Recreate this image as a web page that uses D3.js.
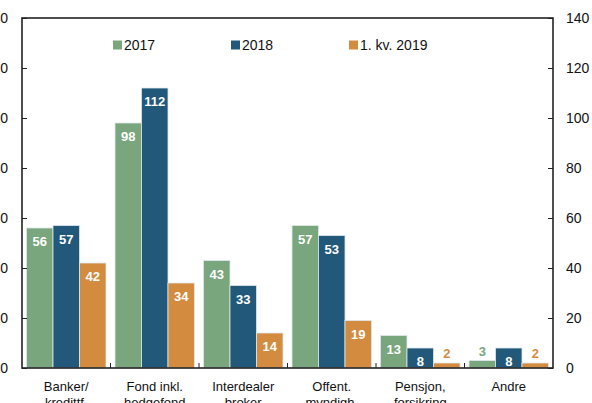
<!DOCTYPE html>
<html>
<head>
<meta charset="utf-8">
<script src="https://cdn.jsdelivr.net/npm/d3@7/dist/d3.min.js"></script>
<style>
  html, body { margin: 0; padding: 0; background: #fff; }
  svg { display: block; font-family: "Liberation Sans", Arial, sans-serif; }
</style>
</head>
<body>
<svg id="chart" width="592" height="403"></svg>
<script>
// Counterparty categories (two-line labels)
const categories = [
  ["Banker/", "kredittf."],
  ["Fond inkl.", "hedgefond"],
  ["Interdealer", "broker"],
  ["Offent.", "myndigh."],
  ["Pensjon,", "forsikring"],
  ["Andre", ""]
];
const seriesNames = ["2017", "2018", "1. kv. 2019"];
const values2017 = [56, 98, 43, 57, 13, 3];
const values2018 = [57, 112, 33, 53, 8, 8];
const valuesQ1_2019 = [42, 34, 14, 19, 2, 2];
const yTicks = [0, 20, 40, 60, 80, 100, 120, 140];
const colors = ["#79a67d", "#22597a", "#d38c3f"];

const series = [values2017, values2018, valuesQ1_2019];

const svg = d3.select("#chart");
const margin = { left: 22, right: 39, top: 18, bottom: 35 };
const W = 592, H = 403;
const innerW = W - margin.left - margin.right;
const innerH = H - margin.top - margin.bottom;

const g = svg.append("g").attr("transform", `translate(${margin.left},${margin.top})`);

const x0 = d3.scaleBand().domain(d3.range(categories.length)).range([0, innerW]).paddingInner(0).paddingOuter(0);
const x1 = d3.scaleBand().domain(d3.range(series.length)).range([0, x0.bandwidth()]).paddingOuter(0.17).paddingInner(0);
const y = d3.scaleLinear().domain([0, 140]).range([innerH, 0]);

// Bars
series.forEach((vals, si) => {
  g.selectAll(null)
    .data(vals)
    .enter()
    .append("rect")
    .attr("x", (d, i) => x0(i) + x1(si))
    .attr("y", d => y(d))
    .attr("width", x1.bandwidth())
    .attr("height", d => innerH - y(d))
    .attr("fill", colors[si])
    .attr("stroke", "#dfe8ee")
    .attr("stroke-width", 0.8);
});

// Value labels: inside the bar top when it fits, otherwise above in the bar colour
series.forEach((vals, si) => {
  g.selectAll(null)
    .data(vals)
    .enter()
    .append("text")
    .attr("x", (d, i) => x0(i) + x1(si) + x1.bandwidth() / 2)
    .attr("y", d => d >= 5 ? y(d) + 18 : y(d) - 5)
    .attr("text-anchor", "middle")
    .attr("font-size", 13)
    .attr("font-weight", "bold")
    .attr("fill", d => d >= 5 ? "#ffffff" : colors[si])
    .text(d => d);
});

// Frame
g.append("rect")
  .attr("x", 0).attr("y", 0)
  .attr("width", innerW).attr("height", innerH)
  .attr("fill", "none")
  .attr("stroke", "#222")
  .attr("stroke-width", 1.6);

// Left axis: inward ticks, labels outside
const leftAxis = g.append("g").call(
  d3.axisLeft(y).tickValues(yTicks).tickSize(-5).tickPadding(14)
);
leftAxis.select(".domain").remove();
leftAxis.selectAll("line").attr("stroke", "#222");
leftAxis.selectAll("text").attr("font-size", 14).attr("fill", "#111")
  .attr("font-family", "Liberation Sans, Arial, sans-serif");

// Right axis
const rightAxis = g.append("g").attr("transform", `translate(${innerW},0)`).call(
  d3.axisRight(y).tickValues(yTicks).tickSize(-5).tickPadding(13)
);
rightAxis.select(".domain").remove();
rightAxis.selectAll("line").attr("stroke", "#222");
rightAxis.selectAll("text").attr("font-size", 14).attr("fill", "#111")
  .attr("font-family", "Liberation Sans, Arial, sans-serif");

// Category separators on the baseline
g.selectAll(null)
  .data(d3.range(1, categories.length))
  .enter()
  .append("line")
  .attr("x1", i => x0(i)).attr("x2", i => x0(i))
  .attr("y1", innerH).attr("y2", innerH - 5)
  .attr("stroke", "#222").attr("stroke-width", 1);

// Category labels
const catLabels = g.selectAll(null)
  .data(categories)
  .enter()
  .append("text")
  .attr("text-anchor", "middle")
  .attr("font-size", 13)
  .attr("fill", "#111")
  .attr("transform", (d, i) => `translate(${x0(i) + x0.bandwidth() / 2},${innerH + 23})`);
catLabels.each(function(d) {
  const t = d3.select(this);
  t.append("tspan").attr("x", 0).attr("dy", 0).text(d[0]);
  if (d[1]) t.append("tspan").attr("x", 0).attr("dy", 16).text(d[1]);
});

// Legend
const legendX = [113, 231, 349];
const legend = g.selectAll(null)
  .data(seriesNames)
  .enter()
  .append("g")
  .attr("transform", (d, i) => `translate(${legendX[i] - margin.left},${45 - margin.top})`);
legend.append("rect")
  .attr("x", 0).attr("y", -4.5)
  .attr("width", 9).attr("height", 9)
  .attr("fill", (d, i) => colors[i]);
legend.append("text")
  .attr("x", 11).attr("y", 5)
  .attr("font-size", 14)
  .attr("fill", "#111")
  .text(d => d);
</script>
</body>
</html>
